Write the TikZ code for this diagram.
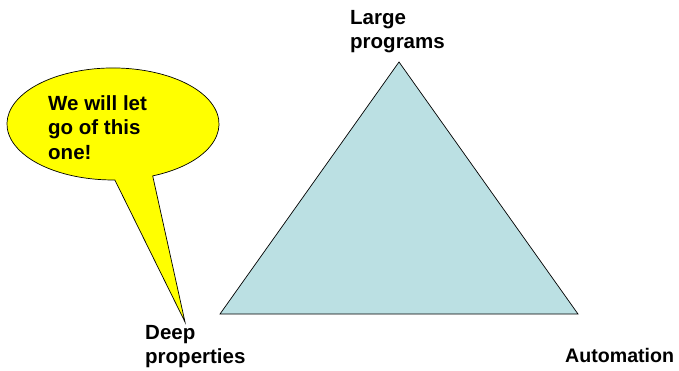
\documentclass[tikz,border=0pt]{standalone}
\usepackage{fontspec}
\setmainfont{Liberation Sans}
\definecolor{triblue}{RGB}{187,224,227}
\definecolor{bubbleyellow}{RGB}{255,255,0}

\begin{document}
\begin{tikzpicture}[x=1pt, y=-1pt, lbl/.style={font=\bfseries\fontsize{20.5}{24.5}\selectfont, align=left, inner sep=0pt}]
            \useasboundingbox (0,0) rectangle (679,371);

            % Triangle corners
            \coordinate (T-top) at (399,62);
            \coordinate (T-left) at (220,314);
            \coordinate (T-right) at (578,314);
            \draw[fill=triblue, line width=0.7pt, line join=miter] (T-left) -- (T-top) -- (T-right) -- cycle;

            % Corner labels
            \node[lbl, anchor=north west] (L-top) at (350,10) {Large\\programs};
            \node[lbl, anchor=north west] (L-left) at (145,325) {Deep\\properties};
            \node[lbl, anchor=base west, font=\bfseries\fontsize{19.6}{24}\selectfont] (L-right) at (565,362) {Automation};

            % Speech bubble
            \coordinate (B-tip) at (185,322);
            \coordinate (B-base) at (152.7,175.9);
            \draw[fill=bubbleyellow, line width=0.7pt] (B-tip) -- (B-base)
                arc[start angle=68, end angle=-271, x radius=106, y radius=56] -- cycle;
            \node[lbl, anchor=north west] (B-text) at (48,95) {We will let\\go of this\\one!};
        \end{tikzpicture}
\end{document}
